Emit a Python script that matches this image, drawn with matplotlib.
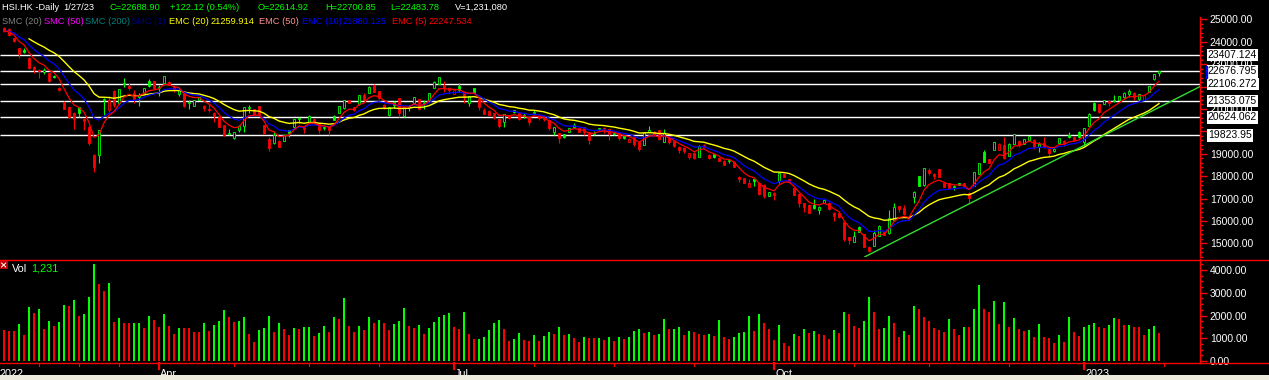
import numpy as np
import pandas as pd
import matplotlib
matplotlib.use("Agg")
import matplotlib.pyplot as plt
from matplotlib.patches import Rectangle
from matplotlib.lines import Line2D
from matplotlib.ticker import MultipleLocator, FuncFormatter
from matplotlib import font_manager

plt.rcParams['font.family'] = ['Liberation Sans', 'DejaVu Sans']

# ---------------- data (HSI daily) ----------------
opens = [
    24600, 24580, 24150, 23700, 23630, 23260, 22890, 22760, 22660, 22590,
    22490, 21950, 21330, 21080, 20830, 21080, 20570, 20210, 18950, 18950,
    21380, 20950, 21800, 21250, 22130, 22010, 21720, 21550, 21720, 22250,
    22250, 21950, 22150, 22220, 22000, 21650, 21770, 21260, 21130, 21420,
    21150, 21000, 20800, 20630, 20270, 19900, 19700, 20060, 20240, 21030,
    20980, 21130, 20280, 19640, 19470, 19590, 19590, 20060, 20180, 20540,
    20210, 20430, 20540, 20330, 20140, 20240, 20700, 20830, 21030, 21400,
    21070, 21200, 21620, 21720, 22070, 21800, 21180, 20730, 21320, 21470,
    20680, 21140, 21280, 21430, 21230, 21400, 21950, 22120, 22070, 21920,
    21670, 22010, 21730, 21250, 21920, 21430, 20950, 20920, 20800, 20540,
    20430, 20730, 20950, 20800, 20680, 20580, 20800, 20730, 20680, 20510,
    19950, 19910, 19880, 19990, 20210, 20140, 20180, 19950, 19880, 20100,
    20170, 20090, 19880, 19910, 19790, 19540, 19730, 19540, 19400, 19990,
    19990, 20060, 19540, 19790, 19580, 19320, 19270, 18840, 19050, 18870,
    19390, 18950, 18990, 18830, 18680, 18670, 18650, 17980, 17900, 17530,
    17870, 17710, 17610, 17120, 17250, 17800, 18090, 17860, 17460, 17210,
    16790, 16720, 16700, 16490, 16820, 16820, 16370, 16370, 15940, 15280,
    15080, 15750, 15420, 14860, 14900, 15330, 15530, 15450, 16050, 16670,
    16570, 16200, 17090, 18010, 17600, 18280, 18100, 18310, 17680, 17680,
    17500, 17680, 17680, 17270, 17570, 18110, 19060, 18750, 19170, 19170,
    19390, 18900, 19440, 19580, 19440, 19620, 19620, 19320, 19500, 19200,
    19140, 19500, 19560, 19820, 19730, 19990, 19540, 20240, 21280, 21220,
    21220, 21370, 21370, 21400, 21520, 21650, 21700, 21430, 21400, 21770,
    22320, 22614.92,
]
highs = [
    24650, 24620, 24170, 23720, 23700, 23300, 22930, 22780, 22810, 22610,
    22510, 21970, 21350, 21110, 20850, 21100, 20590, 20230, 18990, 20080,
    21480, 21580, 21830, 21900, 22360, 22140, 21850, 21700, 21950, 22320,
    22260, 22050, 22490, 22240, 22040, 21880, 21790, 21420, 21420, 21540,
    21170, 21200, 20880, 20650, 20290, 20100, 19980, 20280, 21100, 21180,
    21000, 21150, 20300, 19730, 20030, 19620, 19870, 20080, 20570, 20660,
    20240, 20720, 20560, 20350, 20260, 20260, 20720, 21150, 21420, 21420,
    21100, 21640, 21720, 22010, 22100, 21820, 21200, 21090, 21350, 21500,
    21090, 21160, 21540, 21450, 21400, 21720, 22240, 22430, 22250, 22000,
    21860, 22160, 21750, 21600, 21940, 21450, 21030, 20940, 20820, 20560,
    20790, 20750, 20970, 20820, 20810, 20600, 20950, 20750, 20700, 20530,
    20200, 19930, 19900, 20160, 20360, 20160, 20200, 19970, 20000, 20170,
    20200, 20110, 19960, 19930, 19810, 19700, 19750, 19560, 19970, 20230,
    20010, 20080, 20090, 19810, 19600, 19340, 19290, 19040, 19070, 19370,
    19450, 18970, 19010, 18850, 18700, 18740, 18670, 18000, 17920, 17870,
    17890, 17730, 17630, 17300, 17290, 18150, 18110, 17880, 17480, 17230,
    16810, 16740, 16970, 16660, 16960, 16840, 16390, 16390, 15960, 15300,
    15560, 15770, 15440, 14880, 15600, 15800, 15550, 16490, 16820, 16690,
    16720, 16220, 17330, 18030, 18370, 18350, 18120, 18330, 17700, 17700,
    17620, 17700, 17700, 17290, 18190, 18590, 19150, 18770, 19530, 19460,
    19730, 19460, 19890, 19600, 19660, 19810, 19640, 19540, 19730, 19220,
    19250, 19710, 19620, 19990, 19750, 20010, 20160, 20800, 21300, 21240,
    21420, 21390, 21620, 21600, 21740, 21880, 21740, 21680, 21640, 22040,
    22580, 22700.85,
]
lows = [
    24450, 24250, 23980, 23280, 23480, 22780, 22620, 22370, 22540, 22220,
    22400, 21810, 20980, 20580, 20090, 20660, 20060, 19400, 18200, 18570,
    20730, 20880, 21100, 21200, 21990, 21850, 21250, 21130, 21700, 22000,
    21900, 21560, 22130, 22050, 21770, 21600, 21100, 20990, 21110, 21380,
    20900, 20880, 20430, 20180, 19800, 19850, 19650, 19990, 19980, 20800,
    20750, 20700, 19900, 19140, 19440, 19290, 19560, 19740, 20150, 20360,
    19910, 20400, 20370, 19940, 20040, 19840, 20490, 20800, 21000, 21250,
    20930, 21180, 21380, 21700, 21750, 21450, 21000, 20700, 21030, 20660,
    20650, 20930, 21260, 20960, 21000, 21380, 21930, 22100, 21770, 21700,
    21650, 21770, 21250, 21130, 21700, 20950, 20760, 20710, 20540, 20140,
    20210, 20560, 20840, 20520, 20580, 20280, 20760, 20510, 20460, 20040,
    19840, 19500, 19710, 19970, 20130, 19970, 19840, 19440, 19840, 20060,
    19940, 19620, 19820, 19610, 19680, 19520, 19360, 19120, 19380, 19960,
    19820, 19620, 19520, 19440, 19290, 19050, 19050, 18750, 18780, 18850,
    19280, 18780, 18820, 18660, 18480, 18600, 18400, 17760, 17680, 17510,
    17560, 17180, 17020, 17100, 16940, 17700, 17960, 17730, 17140, 16640,
    16420, 16350, 16530, 16310, 16800, 16500, 15990, 16140, 15130, 14960,
    15060, 15510, 14840, 14610, 14880, 15310, 15360, 15430, 16030, 16420,
    16290, 16060, 16820, 17550, 17580, 18050, 17870, 17960, 17510, 17440,
    17400, 17590, 17550, 16810, 17550, 18090, 18630, 18580, 19150, 19150,
    18780, 18880, 19420, 19300, 19420, 19600, 19200, 19090, 19270, 18900,
    19100, 19480, 19360, 19720, 19600, 19710, 19350, 20220, 20930, 20800,
    21200, 21130, 21330, 21380, 21500, 21520, 21400, 21350, 21380, 21750,
    22300, 22483.78,
]
closes = [
    24500, 24300, 24030, 23440, 23560, 22810, 22720, 22690, 22740, 22260,
    22420, 21830, 21000, 20660, 20570, 20830, 20450, 19470, 18390, 20060,
    21460, 21400, 21180, 21870, 22170, 21920, 21400, 21620, 21920, 22040,
    21920, 22000, 22470, 22070, 21830, 21860, 21130, 21330, 21400, 21520,
    21030, 20950, 20680, 20200, 19840, 19930, 19950, 20240, 21070, 21100,
    20770, 20730, 19940, 19240, 19840, 19320, 19840, 19910, 20550, 20580,
    20090, 20700, 20390, 20060, 20200, 20060, 20510, 21130, 21400, 21280,
    20950, 21620, 21400, 21990, 21770, 21470, 21030, 21070, 21180, 20800,
    21070, 21080, 21520, 20980, 21270, 21700, 22220, 22410, 21920, 21850,
    21830, 21850, 21550, 21580, 21720, 21100, 20780, 20730, 20660, 20240,
    20770, 20580, 20880, 20540, 20710, 20430, 20880, 20580, 20540, 20140,
    20180, 19690, 19730, 20140, 20280, 19990, 19980, 19610, 19930, 20140,
    20100, 19880, 19930, 19690, 19700, 19680, 19440, 19200, 19950, 20060,
    19840, 19640, 19910, 19540, 19360, 19170, 19120, 19020, 18800, 19350,
    19320, 18800, 18840, 18680, 18500, 18710, 18420, 17870, 17700, 17690,
    17800, 17200, 17120, 17280, 17180, 18130, 17980, 17750, 17160, 16790,
    16640, 16370, 16580, 16640, 16940, 16520, 16230, 16160, 15210, 15150,
    15330, 15530, 14860, 14680, 15450, 15780, 15380, 16150, 16610, 16520,
    16310, 16080, 17310, 17570, 18350, 18130, 17990, 17980, 17530, 17460,
    17560, 17610, 17570, 17010, 18170, 18570, 18650, 18600, 19510, 19440,
    18800, 19440, 19870, 19390, 19640, 19790, 19290, 19440, 19290, 19050,
    19230, 19690, 19460, 19740, 19620, 19730, 20140, 20780, 20950, 20880,
    21400, 21250, 21420, 21580, 21720, 21810, 21520, 21660, 21620, 22020,
    22566.78, 22688.90,
]
volumes = [  # thousands
    1362, 1318, 1300, 1626, 1143, 2373, 2110, 2285, 1406, 1758,
    1538, 1714, 2461, 2417, 2681, 1992, 2066, 2813, 4263, 3384,
    3076, 3428, 1714, 1890, 1670, 1650, 1680, 1690, 1450, 1978,
    1802, 1494, 2066, 1538, 1187, 1450, 1440, 1430, 1275, 1260,
    1670, 1318, 1582, 1758, 2241, 1934, 1714, 1758, 1934, 1187,
    835, 1362, 1450, 1978, 1275, 1670, 1406, 1143, 1450, 1406,
    1494, 1500, 1099, 1230, 1538, 1275, 1934, 1846, 2769, 1538,
    1275, 1538, 1362, 1934, 1670, 1802, 1670, 1362, 1626, 1758,
    2329, 1538, 1450, 1582, 1187, 1450, 1714, 1934, 2022, 2110,
    1494, 1406, 2154, 1187, 967, 980, 1055, 1362, 1670, 1802,
    1406, 879, 967, 1230, 923, 870, 1143, 879, 1099, 1275,
    1187, 1494, 1143, 1187, 1011, 835, 1055, 1011, 1000, 1020,
    923, 1055, 879, 1055, 967, 1055, 1318, 1406, 1230, 1275,
    1143, 1187, 1846, 1406, 1410, 1494, 1143, 1318, 1275, 1187,
    1143, 1187, 1099, 1802, 1055, 967, 1055, 1230, 1275, 1978,
    1318, 2066, 1670, 1406, 923, 1582, 791, 659, 1187, 1099,
    1406, 1230, 1318, 1187, 1143, 967, 1362, 1230, 2154, 2066,
    1538, 1450, 1758, 2813, 2154, 1406, 1450, 1978, 1670, 1055,
    1318, 1143, 2417, 2285, 1934, 1758, 1450, 1362, 1275, 1846,
    1406, 1143, 1494, 1490, 2285, 3340, 2285, 2154, 2637, 1626,
    2593, 1494, 1890, 1406, 1318, 1362, 1055, 1626, 1055, 1011,
    791, 1143, 835, 1934, 1275, 1099, 1494, 1582, 1670, 1494,
    1450, 1582, 1890, 1846, 1582, 1590, 1494, 1480, 1143, 1406,
    1538, 1231,
]

level_values = [23407.124, 22676.795, 22106.272, 21353.075, 20624.062, 19823.95]
level_labels = ["23407.124", "22676.795", "22106.272", "21353.075", "20624.062", "19823.95"]
hidden_price_ticks = [22000, 20000]   # fully covered by the level boxes
trend_x = [172.2, 239.2]
trend_y = [14407, 21997]
month_tick_bars = [-1, 31, 90, 154, 216]
month_labels = ["2022", "Apr", "Jul", "Oct", "2023"]
minor_tick_bars = [7, 15, 23, 46, 61, 75, 106, 122, 138, 170, 185, 201, 232]

# ---------------- fonts ----------------
def has_font(name):
    try:
        font_manager.findfont(font_manager.FontProperties(family=name),
                              fallback_to_default=False)
        return True
    except Exception:
        return False


if has_font('Liberation Sans Narrow'):
    HDR_FAMILY, HDR_SIZE = ['Liberation Sans Narrow', 'Liberation Sans'], 8.0
else:
    HDR_FAMILY, HDR_SIZE = ['Liberation Sans', 'DejaVu Sans'], 6.7

# ---------------- figure ----------------
W, H = 1269, 380
GREEN = '#00ff00'
RED = '#ff0000'
fig = plt.figure(figsize=(W / 100, H / 100), dpi=100, facecolor='black')


def fx(px):
    return px / W


def fy(py):
    return 1 - py / H


AX_R = 1200
ax = fig.add_axes([0, fy(257), AX_R / W, (257 - 17) / H])
axv = fig.add_axes([0, fy(363), AX_R / W, (363 - 259) / H])

XL = (-0.8, 239.2)
ax.set_xlim(*XL)
axv.set_xlim(*XL)
ax.set_ylim(23407.124 - 202 * 44.62, 23407.124 + 38 * 44.62)
axv.set_ylim(-88, 4484)


def price_fmt(v, _):
    if any(abs(v - t) < 1 for t in hidden_price_ticks):
        return ""
    return f"{v:.2f}"


for a in (ax, axv):
    a.set_facecolor('black')
    for sp in ('top', 'left', 'bottom'):
        a.spines[sp].set_visible(False)
    a.spines['right'].set_color(RED)
    a.spines['right'].set_linewidth(1.0)
    a.yaxis.tick_right()
    a.tick_params(axis='y', which='major', length=5, width=1, color=RED,
                  labelcolor='white', labelsize=7.5, pad=2)
    a.tick_params(axis='y', which='minor', length=2.5, width=1, color=RED)
    a.set_xticks([])
ax.yaxis.set_major_formatter(FuncFormatter(price_fmt))
axv.yaxis.set_major_formatter(FuncFormatter(lambda v, _: f"{v:.2f}"))
ax.yaxis.set_major_locator(MultipleLocator(1000))
ax.yaxis.set_minor_locator(MultipleLocator(200))
axv.yaxis.set_major_locator(MultipleLocator(1000))
axv.yaxis.set_minor_locator(MultipleLocator(250))

o = np.array(opens, float)
h = np.array(highs, float)
l = np.array(lows, float)
c = np.array(closes, float)
n = len(c)
idx = np.arange(n)
prev = np.r_[o[0], c[:-1]]
cols = np.where(c >= prev, GREEN, RED)
cols[0] = RED if c[0] < o[0] else GREEN

# horizontal level lines
ax.hlines(level_values, XL[0], XL[1], colors='white', lw=1.0, zorder=2)

# candles
ax.vlines(idx, l, h, colors=cols, lw=0.8, zorder=3)
for i in range(n):
    lo_b, hi_b = min(o[i], c[i]), max(o[i], c[i])
    hgt = max(hi_b - lo_b, 30)
    hollow = c[i] > o[i]
    ax.add_patch(Rectangle((i - 0.28, lo_b), 0.56, hgt,
                           facecolor='black' if hollow else cols[i],
                           edgecolor=cols[i], lw=0.6, zorder=4))

# moving averages
s = pd.Series(c)
ema5 = s.ewm(span=5, adjust=False).mean().to_numpy()
ema10 = s.ewm(span=10, adjust=False).mean().to_numpy()
ema20 = s.ewm(span=20, adjust=False).mean().to_numpy()
ema20[:5] = np.nan
ax.plot(idx, ema20, color='#ffff00', lw=1.0, zorder=5)
ax.plot(idx, ema10, color='#0000ff', lw=0.9, zorder=5)
ax.plot(idx, ema5, color=RED, lw=0.9, zorder=6)

# trend line
ax.plot(trend_x, trend_y, color='#33dd33', lw=1.0, zorder=6)

# level boxes on the right axis
for v, lab in zip(level_values, level_labels):
    ax.text(240.75, v, lab, color='black', fontsize=7.5, va='center', ha='left',
            bbox=dict(boxstyle='square,pad=0.12', fc='white', ec='none'),
            clip_on=False, zorder=10)
fig.add_artist(Rectangle((fx(1205.5), fy(78)), 1.5 / W, 12 / H,
                         transform=fig.transFigure, color='#0000ff', zorder=11))

# volume bars
v = np.array(volumes, float)
vprev = np.r_[v[0] + 1, v[:-1]]
vcols = np.where(v > vprev, GREEN, RED)
axv.bar(idx, v, width=0.5, color=vcols, zorder=3)

# red separator lines across full width
for yy in (259.5, 363.0):
    fig.add_artist(Line2D([0, 1], [fy(yy)] * 2, transform=fig.transFigure,
                          color=RED, lw=1.0, zorder=8))

# bottom time ticks / labels
for b in minor_tick_bars:
    px = 4 + 5 * b
    fig.add_artist(Line2D([fx(px)] * 2, [fy(363), fy(365.5)], transform=fig.transFigure,
                          color=RED, lw=0.8, zorder=8))
for b, lab in zip(month_tick_bars, month_labels):
    px = 4 + 5 * b
    if b >= 0:
        fig.add_artist(Line2D([fx(px)] * 2, [fy(363), fy(369)], transform=fig.transFigure,
                              color=RED, lw=1.6, zorder=8))
    fig.text(fx(px + 1), fy(369.0), lab, color='white', fontsize=7.8,
             ha='left', va='top', zorder=5)

fig.add_artist(Rectangle((0, 0), 1, fy(374.5), transform=fig.transFigure,
                         fc='#ecebde', ec='none', zorder=20))

# volume pane title and icon
fig.add_artist(Rectangle((fx(0), fy(268.5)), 7.5 / W, 7.5 / H, transform=fig.transFigure,
                         fc='#c00000', ec='none', zorder=9))
fig.add_artist(Line2D([fx(1.5), fx(5.8)], [fy(263), fy(267)], transform=fig.transFigure,
                      color='white', lw=0.7, zorder=10))
fig.add_artist(Line2D([fx(1.5), fx(5.8)], [fy(267), fy(263)], transform=fig.transFigure,
                      color='white', lw=0.7, zorder=10))
fig.text(fx(12), fy(268.5), "Vol", color='white', fontsize=7.8, family=HDR_FAMILY,
         va='center', ha='left')
fig.text(fx(31), fy(268.5), "1,231", color=GREEN, fontsize=7.8, family=HDR_FAMILY,
         va='center', ha='left')

# header rows
row1 = [(2, "HSI.HK -Daily", 'white'), (63, "1/27/23", 'white'),
        (110, "C=22688.90", GREEN), (170, "+122.12 (0.54%)", GREEN),
        (258, "O=22614.92", GREEN), (325, "H=22700.85", GREEN),
        (390, "L=22483.78", GREEN), (455, "V=1,231,080", 'white')]
row2 = [(2, "SMC (20)", '#808080'), (44, "SMC (50)", '#ff00ff'),
        (85, "SMC (200)", '#008080'), (131, "SMC (1)", '#000080'),
        (169, "EMC (20)", '#ffff00'), (211, "21259.914", '#ffff00'),
        (259, "EMC (50)", '#ff9090'), (302, "EMC (10)", '#0000ff'),
        (343, "21880.125", '#0000ff'), (392, "EMC (5)", RED),
        (429, "22247.534", RED)]
for x, t, col in row1:
    fig.text(fx(x), fy(7.5), t, color=col, fontsize=HDR_SIZE, family=HDR_FAMILY,
             va='center', ha='left', zorder=12)
for x, t, col in row2:
    fig.text(fx(x), fy(21.5), t, color=col, fontsize=HDR_SIZE, family=HDR_FAMILY,
             va='center', ha='left', zorder=12)

fig.savefig("out.png", dpi=100, facecolor='black')
